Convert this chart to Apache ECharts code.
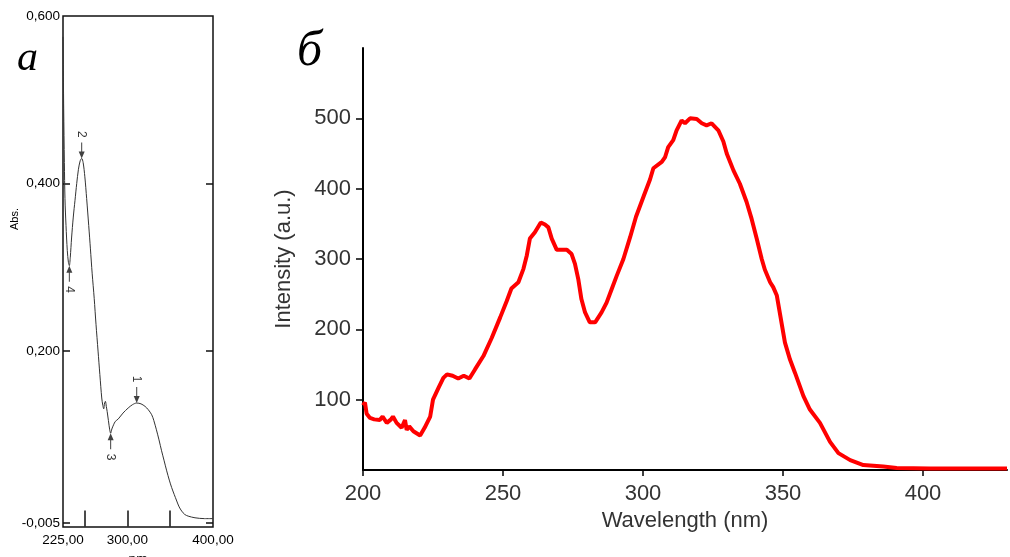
<!DOCTYPE html>
<html>
<head>
<meta charset="utf-8">
<script src="https://cdn.jsdelivr.net/npm/echarts@6/dist/echarts.min.js"></script>
<style>
  html, body { margin: 0; padding: 0; background: #fff; }
  #main { width: 1010px; height: 557px; }
</style>
</head>
<body>
<div id="main"></div>
<script type="text/javascript">
// panel a: absorbance spectrum
var absWl = [225, 225.8, 226.6, 227.3, 228.5, 230, 231.3, 232.4, 233.5, 235, 237, 239, 241, 243, 245, 246.8,
  248.5, 250.5, 252.6, 255, 257, 259, 261.4, 263.5, 265.9, 268, 270.2, 271.5, 272.5, 273.5, 274.5, 275.5,
  276.5, 278, 279.5, 280.6, 282, 284, 286, 289.5, 295, 301, 306, 311, 316, 320.7, 324.5, 328.5, 331, 334,
  337, 340, 343, 346, 349, 351.8, 354.7, 357.7, 360.5, 363.5, 367, 371, 379, 390, 400];
var absVal = [0.575, 0.49, 0.425, 0.382, 0.35, 0.32, 0.306, 0.302, 0.312, 0.335, 0.36, 0.38, 0.40, 0.417, 0.427, 0.43,
  0.425, 0.408, 0.382, 0.35, 0.322, 0.293, 0.263, 0.232, 0.2, 0.172, 0.144, 0.135, 0.131, 0.138, 0.14, 0.134,
  0.128, 0.117, 0.106, 0.102, 0.107, 0.112, 0.116, 0.119, 0.126, 0.132, 0.136, 0.138, 0.137, 0.134, 0.13, 0.124, 0.117, 0.106,
  0.094, 0.081, 0.069, 0.057, 0.046, 0.037, 0.029, 0.021, 0.014, 0.009, 0.005, 0.003, 0.001, 0, 0];
// marked extrema: number, wavelength, absorbance, peak (true) or valley
var markNum = ['1', '2', '3', '4'];
var markWl = [311, 246.8, 280.6, 232.4];
var markVal = [0.138, 0.43, 0.102, 0.302];
var markPeak = [true, true, false, false];
var absXLabels = [225, 300, 400];
var absXTicks = [250, 300, 350];
var absYLabels = [-0.005, 0.2, 0.4, 0.6];

// panel б: fluorescence spectrum
var flWl = [200, 200.7, 201.3, 202.5, 204, 206, 207, 208.5, 210, 210.7, 212, 213.8, 215, 215.6, 216.5, 218, 220.4,
  222, 224, 225, 227, 228.7, 230, 232, 234, 236, 238, 240, 243, 246, 249, 251.3, 253, 255.5, 257.3, 258.5,
  259.6, 261.4, 263.5, 265, 266.2, 267.4, 269.2, 272.8, 274.5, 275.7, 276.9, 278, 279.3, 281, 282.9, 285.2,
  287, 288.8, 290.6, 293, 295.4, 297.5, 300.3, 302.5, 303.7, 306.7, 307.9, 309, 310.8, 312, 313.8, 315,
  316.8, 319.2, 321, 322.7, 324.5, 326.9, 328.7, 329.9, 332.3, 334.6, 337, 338.8, 340.6, 342.4, 343.5,
  345.4, 346.5, 347.8, 350.7, 352.5, 354.3, 357.3, 359.6, 363.2, 366.8, 369.8, 374, 378.7, 385.8, 390.6, 402.5, 430];
var flVal = [92, 96, 80, 74, 72, 71, 76, 67, 72, 76, 67, 60, 71, 57, 62, 55, 49,
  60, 76, 100, 117, 131, 136, 134, 130, 134, 130, 143, 162, 188, 217, 240, 258, 267, 286, 305,
  329, 338, 352, 349, 345, 329, 313, 313, 307, 293, 271, 243, 224, 210, 210, 224,
  238, 257, 276, 300, 331, 360, 390, 413, 429, 438, 445, 459, 469, 483, 497, 493,
  500, 499, 493, 490, 493, 483, 467, 450, 426, 407, 381, 357, 329, 300, 285,
  267, 260, 248, 181, 157, 138, 105, 86, 67, 40, 24, 14, 7, 5, 3, 2, 2];
var flXTicks = [200, 250, 300, 350, 400];
var flYTicks = [100, 200, 300, 400, 500];

function zip(a, b) {
    var out = [];
    for (var i = 0; i < a.length; i++) out.push([a[i], b[i]]);
    return out;
}
function comma(v, n) { return v.toFixed(n).replace('.', ','); }

var arrowDown = 'path://M4.5,0 L5.5,0 L5.5,9 L8,9 L5,16 L2,9 L4.5,9 Z';
var arrowUp = 'path://M5,0 L8,7 L5.5,7 L5.5,16 L4.5,16 L4.5,7 L2,7 Z';
var markData = [];
for (var i = 0; i < markNum.length; i++) {
    var up = markPeak[i];
    markData.push({
        value: [markWl[i], markVal[i]],
        symbol: up ? arrowDown : arrowUp,
        symbolOffset: [0, up ? -8 : 8],
        label: {
            show: true,
            formatter: markNum[i],
            position: up ? 'top' : 'bottom',
            distance: 8,
            rotate: -90,
            align: 'center',
            verticalAlign: 'middle',
            color: '#000',
            fontSize: 12,
            fontFamily: 'Liberation Sans'
        }
    });
}

var myChart = echarts.init(document.getElementById('main'), null, { renderer: 'canvas' });

var leftFont = { color: '#000', fontSize: 13.5, fontFamily: 'Liberation Sans' };
var rightFont = { color: '#333', fontSize: 22, fontFamily: 'Liberation Sans' };

var option = {
    animation: false,
    backgroundColor: '#fff',
    grid: [
        { left: 63, top: 16, width: 150, height: 511, outerBoundsMode: 'none', containLabel: false,
          show: true, borderColor: '#111', borderWidth: 1.5, backgroundColor: 'transparent' },
        { left: 363, top: 48, width: 644, height: 422, outerBoundsMode: 'none', containLabel: false }
    ],
    xAxis: [
        {
            gridIndex: 0, type: 'value', min: 225, max: 400,
            name: 'nm', nameLocation: 'middle', nameGap: 22,
            nameTextStyle: leftFont,
            axisLine: { show: false },
            axisTick: { show: true, inside: true, length: 8, customValues: absXTicks, lineStyle: { color: '#111', width: 1.5 } },
            axisLabel: { customValues: absXLabels, margin: 6, formatter: function (v) { return comma(v, 2); }, color: '#000', fontSize: 13.5, fontFamily: 'Liberation Sans', hideOverlap: false },
            splitLine: { show: false }
        },
        {
            gridIndex: 0, type: 'value', min: 225, max: 400, position: 'top',
            axisLine: { show: false },
            axisTick: { show: true, inside: true, length: 8, customValues: absXTicks, lineStyle: { color: '#111', width: 1.5 } },
            axisLabel: { show: false },
            splitLine: { show: false }
        },
        {
            gridIndex: 1, type: 'value', min: 200, max: 430,
            name: 'Wavelength (nm)', nameLocation: 'middle', nameGap: 37,
            nameTextStyle: rightFont,
            axisLine: { show: true, onZero: false, lineStyle: { color: '#000', width: 2 } },
            axisTick: { show: true, length: 6, customValues: flXTicks, lineStyle: { color: '#000', width: 1.5 } },
            axisLabel: { customValues: flXTicks, margin: 13, color: '#333', fontSize: 22, fontFamily: 'Liberation Sans' },
            splitLine: { show: false }
        }
    ],
    yAxis: [
        {
            gridIndex: 0, type: 'value', min: -0.01, max: 0.6,
            axisLine: { show: false },
            axisTick: { show: true, inside: true, length: 7, customValues: [-0.005, 0.2, 0.4], lineStyle: { color: '#111', width: 1.5 } },
            axisLabel: { customValues: absYLabels, margin: 3, formatter: function (v) { return comma(v, 3); }, color: '#000', fontSize: 13.5, fontFamily: 'Liberation Sans' },
            splitLine: { show: false }
        },
        {
            gridIndex: 0, type: 'value', min: -0.01, max: 0.6, position: 'right',
            axisLine: { show: false },
            axisTick: { show: true, inside: true, length: 7, customValues: [-0.005, 0.2, 0.4], lineStyle: { color: '#111', width: 1.5 } },
            axisLabel: { show: false },
            splitLine: { show: false }
        },
        {
            gridIndex: 1, type: 'value', min: 0, max: 600,
            name: 'Intensity (a.u.)', nameLocation: 'middle', nameGap: 68,
            nameTextStyle: rightFont,
            axisLine: { show: true, onZero: false, lineStyle: { color: '#000', width: 2 } },
            axisTick: { show: true, length: 7, customValues: flYTicks, lineStyle: { color: '#000', width: 1.5 } },
            axisLabel: { customValues: flYTicks, margin: 12, color: '#333', fontSize: 22, fontFamily: 'Liberation Sans' },
            splitLine: { show: false }
        }
    ],
    graphic: [
        { type: 'text', left: 17, top: 38, style: { text: 'а', font: 'italic 42px "Liberation Serif"', fill: '#000' } },
        { type: 'text', left: 297, top: 27, style: { text: 'б', font: 'italic 50px "Liberation Serif"', fill: '#000' } },
        { type: 'text', x: 15, y: 219, rotation: Math.PI / 2, style: { text: 'Abs.', font: '11px "Liberation Sans"', fill: '#000', align: 'center', verticalAlign: 'middle' } }
    ],
    series: [
        {
            name: 'Abs', type: 'line', xAxisIndex: 0, yAxisIndex: 0,
            showSymbol: false, smooth: 0.3,
            lineStyle: { color: '#333', width: 1 },
            data: zip(absWl, absVal)
        },
        {
            name: 'marks', type: 'scatter', xAxisIndex: 0, yAxisIndex: 0,
            symbolSize: [6, 16],
            itemStyle: { color: '#111' },
            data: markData
        },
        {
            name: 'Intensity', type: 'line', xAxisIndex: 2, yAxisIndex: 2,
            showSymbol: false,
            lineStyle: { color: '#ff0000', width: 4 },
            data: zip(flWl, flVal)
        }
    ]
};
myChart.setOption(option);
</script>
</body>
</html>
